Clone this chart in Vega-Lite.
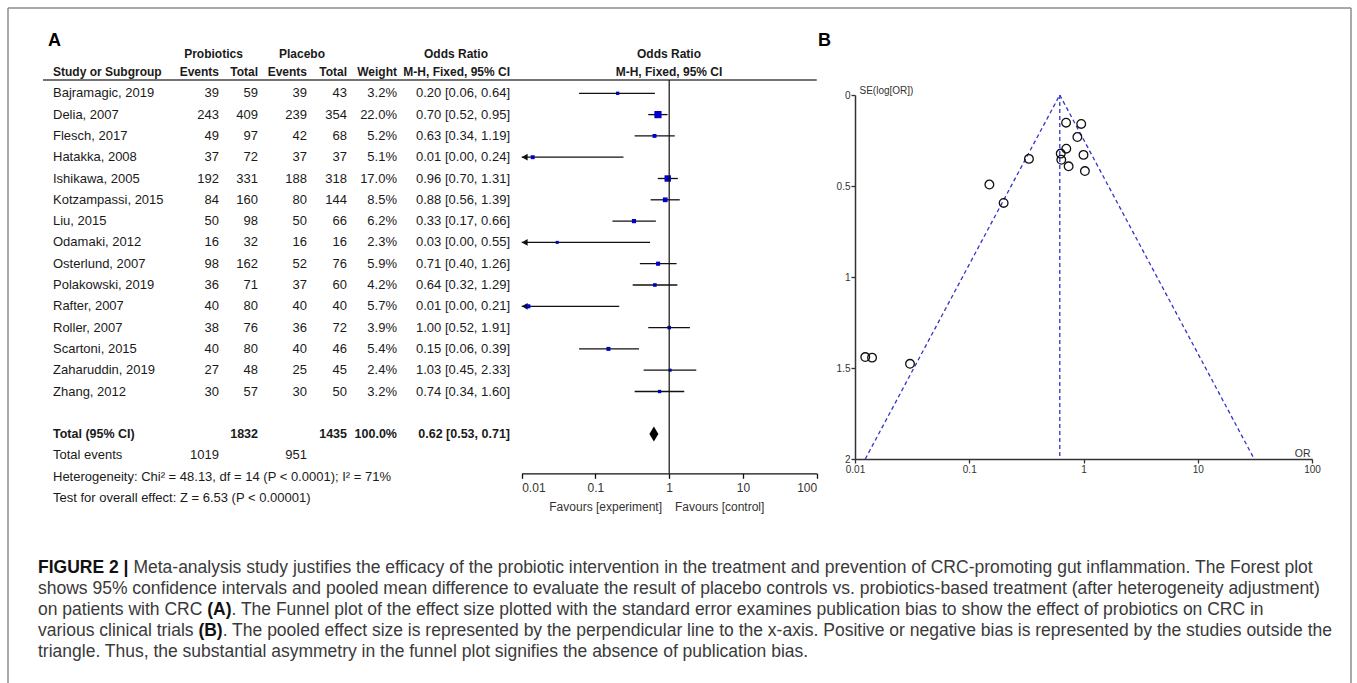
{
  "$schema": "https://vega.github.io/schema/vega-lite/v6.json",
  "autosize": {"type": "none"},
  "width": 1343,
  "height": 675,
  "padding": {"left": 8, "top": 8, "right": 6, "bottom": 0},
  "background": "#ffffff",
  "config": {
    "view": {"stroke": null},
    "axis": {"grid": false, "labelOverlap": false, "labelBound": false},
    "style": {
      "tbl": {"font": "Liberation Sans, Arial, sans-serif", "fontSize": 13, "color": "#1a1a1a", "baseline": "middle"},
      "tblb": {"font": "Liberation Sans, Arial, sans-serif", "fontSize": 12, "fontWeight": "bold", "color": "#1a1a1a", "baseline": "middle"},
      "fav": {"font": "Liberation Sans, Arial, sans-serif", "fontSize": 12, "color": "#333333", "baseline": "middle"},
      "cap": {"font": "Liberation Sans, Arial, sans-serif", "fontSize": 17.5, "color": "#3a3a3a", "baseline": "middle", "align": "left"},
      "capb": {"font": "Liberation Sans, Arial, sans-serif", "fontSize": 17.5, "fontWeight": "bold", "color": "#111111", "baseline": "middle", "align": "left"},
      "panel": {"font": "Liberation Sans, Arial, sans-serif", "fontSize": 18, "fontWeight": "bold", "color": "#000000", "baseline": "alphabetic", "align": "left"}
    }
  },
  "datasets": {
    "rows": [
      {"row": "Bajramagic, 2019", "kind": "study", "ev_p": 39, "tot_p": 59, "ev_c": 39, "tot_c": 43, "weight": 0.032, "or": 0.2, "lo": 0.06, "hi": 0.64, "ci": "0.20 [0.06, 0.64]", "se": 0.593},
      {"row": "Delia, 2007", "kind": "study", "ev_p": 243, "tot_p": 409, "ev_c": 239, "tot_c": 354, "weight": 0.22, "or": 0.704, "lo": 0.52, "hi": 0.95, "ci": "0.70 [0.52, 0.95]", "se": 0.152},
      {"row": "Flesch, 2017", "kind": "study", "ev_p": 49, "tot_p": 97, "ev_c": 42, "tot_c": 68, "weight": 0.052, "or": 0.632, "lo": 0.34, "hi": 1.19, "ci": "0.63 [0.34, 1.19]", "se": 0.322},
      {"row": "Hatakka, 2008", "kind": "study", "ev_p": 37, "tot_p": 72, "ev_c": 37, "tot_c": 37, "weight": 0.051, "or": 0.0141, "lo": 0.0008, "hi": 0.24, "ci": "0.01 [0.00, 0.24]", "se": 1.443},
      {"row": "Ishikawa, 2005", "kind": "study", "ev_p": 192, "tot_p": 331, "ev_c": 188, "tot_c": 318, "weight": 0.17, "or": 0.955, "lo": 0.7, "hi": 1.31, "ci": "0.96 [0.70, 1.31]", "se": 0.159},
      {"row": "Kotzampassi, 2015", "kind": "study", "ev_p": 84, "tot_p": 160, "ev_c": 80, "tot_c": 144, "weight": 0.085, "or": 0.884, "lo": 0.56, "hi": 1.39, "ci": "0.88 [0.56, 1.39]", "se": 0.231},
      {"row": "Liu, 2015", "kind": "study", "ev_p": 50, "tot_p": 98, "ev_c": 50, "tot_c": 66, "weight": 0.062, "or": 0.333, "lo": 0.17, "hi": 0.66, "ci": "0.33 [0.17, 0.66]", "se": 0.351},
      {"row": "Odamaki, 2012", "kind": "study", "ev_p": 16, "tot_p": 32, "ev_c": 16, "tot_c": 16, "weight": 0.023, "or": 0.0303, "lo": 0.0017, "hi": 0.55, "ci": "0.03 [0.00, 0.55]", "se": 1.477},
      {"row": "Osterlund, 2007", "kind": "study", "ev_p": 98, "tot_p": 162, "ev_c": 52, "tot_c": 76, "weight": 0.059, "or": 0.707, "lo": 0.4, "hi": 1.26, "ci": "0.71 [0.40, 1.26]", "se": 0.295},
      {"row": "Polakowski, 2019", "kind": "study", "ev_p": 36, "tot_p": 71, "ev_c": 37, "tot_c": 60, "weight": 0.042, "or": 0.639, "lo": 0.32, "hi": 1.29, "ci": "0.64 [0.32, 1.29]", "se": 0.356},
      {"row": "Rafter, 2007", "kind": "study", "ev_p": 40, "tot_p": 80, "ev_c": 40, "tot_c": 40, "weight": 0.057, "or": 0.0123, "lo": 0.0007, "hi": 0.21, "ci": "0.01 [0.00, 0.21]", "se": 1.44},
      {"row": "Roller, 2007", "kind": "study", "ev_p": 38, "tot_p": 76, "ev_c": 36, "tot_c": 72, "weight": 0.039, "or": 1.0, "lo": 0.52, "hi": 1.91, "ci": "1.00 [0.52, 1.91]", "se": 0.329},
      {"row": "Scartoni, 2015", "kind": "study", "ev_p": 40, "tot_p": 80, "ev_c": 40, "tot_c": 46, "weight": 0.054, "or": 0.15, "lo": 0.06, "hi": 0.39, "ci": "0.15 [0.06, 0.39]", "se": 0.492},
      {"row": "Zaharuddin, 2019", "kind": "study", "ev_p": 27, "tot_p": 48, "ev_c": 25, "tot_c": 45, "weight": 0.024, "or": 1.029, "lo": 0.45, "hi": 2.33, "ci": "1.03 [0.45, 2.33]", "se": 0.418},
      {"row": "Zhang, 2012", "kind": "study", "ev_p": 30, "tot_p": 57, "ev_c": 30, "tot_c": 50, "weight": 0.032, "or": 0.741, "lo": 0.34, "hi": 1.6, "ci": "0.74 [0.34, 1.60]", "se": 0.392},
      {"row": "Total (95% CI)", "kind": "total", "tot_p": 1832, "tot_c": 1435, "weight": 1.0, "or": 0.62, "lo": 0.53, "hi": 0.71, "ci": "0.62 [0.53, 0.71]"},
      {"row": "Total events", "kind": "events", "ev_p": 1019, "ev_c": 951},
      {"row": "Heterogeneity: Chi² = 48.13, df = 14 (P < 0.0001); I² = 71%", "kind": "note"},
      {"row": "Test for overall effect: Z = 6.53 (P < 0.00001)", "kind": "note"}
    ],
    "funnel": [
      {"line": "left", "or": 0.62, "se": 0},
      {"line": "left", "or": 0.0123, "se": 2},
      {"line": "mid", "or": 0.62, "se": 0},
      {"line": "mid", "or": 0.62, "se": 2},
      {"line": "right", "or": 0.62, "se": 0},
      {"line": "right", "or": 31.2, "se": 2}
    ]
  },
  "resolve": {"scale": {"x": "independent", "y": "independent"}},
  "layer": [
    {"data": {"values": [{}]}, "mark": {"type": "rule", "color": "#8c8c8c", "strokeWidth": 1.5}, "encoding": {"x": {"value": 0}, "x2": {"value": 1343}, "y": {"value": 0}}},
    {"data": {"values": [{}]}, "mark": {"type": "rule", "color": "#8c8c8c", "strokeWidth": 1.5}, "encoding": {"x": {"value": 0}, "y": {"value": 0}, "y2": {"value": 690}}},
    {"data": {"values": [{}]}, "mark": {"type": "rule", "color": "#8c8c8c", "strokeWidth": 1.5}, "encoding": {"x": {"value": 1343}, "y": {"value": 0}, "y2": {"value": 690}}},
    {"data": {"values": [{}]}, "mark": {"type": "text", "style": "panel", "text": "A", "x": 40, "y": 38}},
    {"data": {"values": [{}]}, "mark": {"type": "text", "style": "panel", "text": "B", "x": 810, "y": 38}},
    {"data": {"values": [{}]}, "mark": {"type": "text", "style": "tblb", "align": "center", "text": "Probiotics", "x": 205.5, "y": 46}},
    {"data": {"values": [{}]}, "mark": {"type": "text", "style": "tblb", "align": "center", "text": "Placebo", "x": 294, "y": 46}},
    {"data": {"values": [{}]}, "mark": {"type": "text", "style": "tblb", "align": "center", "text": "Odds Ratio", "x": 448, "y": 46}},
    {"data": {"values": [{}]}, "mark": {"type": "text", "style": "tblb", "align": "center", "text": "Odds Ratio", "x": 661, "y": 46}},
    {"data": {"values": [{}]}, "mark": {"type": "text", "style": "tblb", "align": "left", "text": "Study or Subgroup", "x": 45, "y": 63.5}},
    {"data": {"values": [{}]}, "mark": {"type": "text", "style": "tblb", "align": "right", "text": "Events", "x": 211, "y": 63.5}},
    {"data": {"values": [{}]}, "mark": {"type": "text", "style": "tblb", "align": "right", "text": "Total", "x": 250, "y": 63.5}},
    {"data": {"values": [{}]}, "mark": {"type": "text", "style": "tblb", "align": "right", "text": "Events", "x": 299, "y": 63.5}},
    {"data": {"values": [{}]}, "mark": {"type": "text", "style": "tblb", "align": "right", "text": "Total", "x": 339, "y": 63.5}},
    {"data": {"values": [{}]}, "mark": {"type": "text", "style": "tblb", "align": "right", "text": "Weight", "x": 389, "y": 63.5}},
    {"data": {"values": [{}]}, "mark": {"type": "text", "style": "tblb", "align": "right", "text": "M-H, Fixed, 95% CI", "x": 502, "y": 63.5}},
    {"data": {"values": [{}]}, "mark": {"type": "text", "style": "tblb", "align": "center", "text": "M-H, Fixed, 95% CI", "x": 661, "y": 63.5}},
    {"data": {"values": [{}]}, "mark": {"type": "rule", "color": "#444444", "strokeWidth": 1.6}, "encoding": {"x": {"value": 35}, "x2": {"value": 808.7}, "y": {"value": 72}}},
    {"data": {"values": [{}]}, "mark": {"type": "text", "style": "fav", "align": "right", "text": "Favours [experiment]", "x": 654, "y": 499}},
    {"data": {"values": [{}]}, "mark": {"type": "text", "style": "fav", "align": "left", "text": "Favours [control]", "x": 667, "y": 499}},
    {
      "data": {"name": "rows"},
      "encoding": {
        "y": {
          "field": "row",
          "type": "nominal",
          "scale": {
            "type": "point",
            "padding": 0,
            "range": [85.3, 490],
            "domain": ["Bajramagic, 2019", "Delia, 2007", "Flesch, 2017", "Hatakka, 2008", "Ishikawa, 2005", "Kotzampassi, 2015", "Liu, 2015", "Odamaki, 2012", "Osterlund, 2007", "Polakowski, 2019", "Rafter, 2007", "Roller, 2007", "Scartoni, 2015", "Zaharuddin, 2019", "Zhang, 2012", " ", "Total (95% CI)", "Total events", "Heterogeneity: Chi² = 48.13, df = 14 (P < 0.0001); I² = 71%", "Test for overall effect: Z = 6.53 (P < 0.00001)"]
          },
          "axis": null
        }
      },
      "layer": [
        {"transform": [{"filter": "datum.kind != 'total'"}], "mark": {"type": "text", "style": "tbl", "align": "left", "x": 45}, "encoding": {"text": {"field": "row", "type": "nominal"}}},
        {"transform": [{"filter": "datum.kind == 'total'"}], "mark": {"type": "text", "style": "tblb", "fontSize": 12.5, "align": "left", "x": 45}, "encoding": {"text": {"field": "row", "type": "nominal"}}},
        {"transform": [{"filter": "isValid(datum.ev_p)"}], "mark": {"type": "text", "style": "tbl", "align": "right", "x": 211}, "encoding": {"text": {"field": "ev_p", "type": "quantitative", "format": "d"}}},
        {"transform": [{"filter": "datum.kind == 'study'"}], "mark": {"type": "text", "style": "tbl", "align": "right", "x": 250}, "encoding": {"text": {"field": "tot_p", "type": "quantitative", "format": "d"}}},
        {"transform": [{"filter": "datum.kind == 'total'"}], "mark": {"type": "text", "style": "tblb", "fontSize": 12.5, "align": "right", "x": 250}, "encoding": {"text": {"field": "tot_p", "type": "quantitative", "format": "d"}}},
        {"transform": [{"filter": "isValid(datum.ev_c)"}], "mark": {"type": "text", "style": "tbl", "align": "right", "x": 299}, "encoding": {"text": {"field": "ev_c", "type": "quantitative", "format": "d"}}},
        {"transform": [{"filter": "datum.kind == 'study'"}], "mark": {"type": "text", "style": "tbl", "align": "right", "x": 339}, "encoding": {"text": {"field": "tot_c", "type": "quantitative", "format": "d"}}},
        {"transform": [{"filter": "datum.kind == 'total'"}], "mark": {"type": "text", "style": "tblb", "fontSize": 12.5, "align": "right", "x": 339}, "encoding": {"text": {"field": "tot_c", "type": "quantitative", "format": "d"}}},
        {"transform": [{"filter": "datum.kind == 'study'"}], "mark": {"type": "text", "style": "tbl", "align": "right", "x": 389}, "encoding": {"text": {"field": "weight", "type": "quantitative", "format": ".1%"}}},
        {"transform": [{"filter": "datum.kind == 'total'"}], "mark": {"type": "text", "style": "tblb", "fontSize": 12.5, "align": "right", "x": 389}, "encoding": {"text": {"field": "weight", "type": "quantitative", "format": ".1%"}}},
        {"transform": [{"filter": "datum.kind == 'study'"}], "mark": {"type": "text", "style": "tbl", "align": "right", "x": 502}, "encoding": {"text": {"field": "ci", "type": "nominal"}}},
        {"transform": [{"filter": "datum.kind == 'total'"}], "mark": {"type": "text", "style": "tblb", "fontSize": 12.5, "align": "right", "x": 502}, "encoding": {"text": {"field": "ci", "type": "nominal"}}},
        {
          "transform": [{"filter": "datum.kind == 'study'"}],
          "mark": {"type": "rule", "color": "#111111", "strokeWidth": 1.3},
          "encoding": {
            "x": {
              "field": "lo", "type": "quantitative",
              "scale": {"type": "log", "domain": [0.01, 100], "range": [513.7, 808.7], "clamp": true, "nice": false},
              "axis": {
                "orient": "bottom", "offset": -209.7, "values": [0.01, 0.1, 1, 10, 100],
                "labelExpr": "format(datum.value, '~g')", "labelFlush": true,
                "tickSize": 5, "labelPadding": 4, "domainColor": "#111111", "tickColor": "#111111",
                "domainWidth": 1.3, "tickWidth": 1.3,
                "labelFont": "Liberation Sans, Arial, sans-serif",
                "labelFontSize": 12, "labelColor": "#333333", "title": null
              }
            },
            "x2": {"field": "hi"}
          }
        },
        {
          "transform": [{"filter": "datum.kind == 'study' && datum.lo < 0.01"}],
          "mark": {"type": "point", "shape": "triangle-left", "filled": true, "color": "#111111", "size": 45, "opacity": 1, "xOffset": 3},
          "encoding": {"x": {"field": "lo", "type": "quantitative", "scale": {"type": "log", "domain": [0.01, 100], "range": [513.7, 808.7], "clamp": true, "nice": false}}}
        },
        {
          "transform": [{"filter": "datum.kind == 'study'"}],
          "mark": {"type": "point", "shape": "square", "filled": true, "color": "#0000cc", "opacity": 1},
          "encoding": {
            "x": {"field": "or", "type": "quantitative", "scale": {"type": "log", "domain": [0.01, 100], "range": [513.7, 808.7], "clamp": true, "nice": false}},
            "size": {"field": "weight", "type": "quantitative", "scale": {"domain": [0, 0.22], "range": [4, 52]}, "legend": null}
          }
        },
        {
          "transform": [{"filter": "datum.kind == 'total'"}],
          "mark": {"type": "point", "shape": "M-0.6,0L0,-1L0.6,0L0,1Z", "filled": true, "color": "#000000", "size": 225, "opacity": 1},
          "encoding": {"x": {"field": "or", "type": "quantitative", "scale": {"type": "log", "domain": [0.01, 100], "range": [513.7, 808.7], "clamp": true, "nice": false}}}
        },
        {
          "data": {"values": [{}]},
          "mark": {"type": "rule", "color": "#111111", "strokeWidth": 1.2},
          "encoding": {
            "x": {"datum": 1, "type": "quantitative", "scale": {"type": "log", "domain": [0.01, 100], "range": [513.7, 808.7], "clamp": true, "nice": false}},
            "y": {"value": 72},
            "y2": {"value": 465.3}
          }
        }
      ]
    },
    {
      "layer": [
        {
          "data": {"name": "funnel"},
          "mark": {"type": "line", "color": "#3434c8", "strokeWidth": 1.3, "strokeDash": [4, 3]},
          "encoding": {
            "x": {
              "field": "or", "type": "quantitative",
              "scale": {"type": "log", "domain": [0.01, 100], "range": [847, 1304], "nice": false},
              "axis": {
                "orient": "bottom", "offset": -224, "values": [0.01, 0.1, 1, 10, 100],
                "labelExpr": "format(datum.value, '~g')", "labelFlush": false,
                "tickSize": 4, "labelPadding": 1, "domainColor": "#333333", "tickColor": "#333333",
                "domainWidth": 1.5, "tickWidth": 1.3,
                "labelFont": "Liberation Sans, Arial, sans-serif",
                "labelFontSize": 10, "labelColor": "#333333",
                "title": "OR", "titleX": 1302, "titleY": -3, "titleAlign": "right", "titleBaseline": "alphabetic",
                "titleFont": "Liberation Sans, Arial, sans-serif",
                "titleFontSize": 10.5, "titleFontWeight": "normal", "titleColor": "#333333"
              }
            },
            "y": {
              "field": "se", "type": "quantitative",
              "scale": {"domain": [0, 2], "range": [87, 451], "nice": false, "zero": false},
              "axis": {
                "orient": "left", "offset": -847, "values": [0, 0.5, 1, 1.5, 2],
                "labelExpr": "format(datum.value, '~g')",
                "tickSize": 4, "labelPadding": 1, "domainColor": "#333333", "tickColor": "#333333",
                "domainWidth": 1.5, "tickWidth": 1.3,
                "labelFont": "Liberation Sans, Arial, sans-serif",
                "labelFontSize": 10, "labelColor": "#333333",
                "title": "SE(log[OR])", "titleAngle": 0, "titleX": 4, "titleY": 85, "titleAlign": "left", "titleBaseline": "alphabetic",
                "titleFont": "Liberation Sans, Arial, sans-serif",
                "titleFontSize": 10, "titleFontWeight": "normal", "titleColor": "#333333"
              }
            },
            "detail": {"field": "line", "type": "nominal"}
          }
        },
        {
          "data": {"name": "rows"},
          "transform": [{"filter": "datum.kind == 'study'"}],
          "mark": {"type": "point", "shape": "circle", "filled": false, "color": "#111111", "strokeWidth": 1.3, "size": 75, "opacity": 1},
          "encoding": {
            "x": {"field": "or", "type": "quantitative", "scale": {"type": "log", "domain": [0.01, 100], "range": [847, 1304], "nice": false}},
            "y": {"field": "se", "type": "quantitative", "scale": {"domain": [0, 2], "range": [87, 451], "nice": false, "zero": false}}
          }
        }
      ]
    },
    {"data": {"values": [{}]}, "mark": {"type": "text", "style": "capb", "text": "FIGURE 2 |", "x": 30, "y": 560}},
    {"data": {"values": [{}]}, "mark": {"type": "text", "style": "cap", "text": "Meta-analysis study justifies the efficacy of the probiotic intervention in the treatment and prevention of CRC-promoting gut inflammation. The Forest plot", "x": 125.4, "y": 560}},
    {"data": {"values": [{}]}, "mark": {"type": "text", "style": "cap", "text": "shows 95% confidence intervals and pooled mean difference to evaluate the result of placebo controls vs. probiotics-based treatment (after heterogeneity adjustment)", "x": 30, "y": 581}},
    {"data": {"values": [{}]}, "mark": {"type": "text", "style": "cap", "text": "on patients with CRC", "x": 30, "y": 602}},
    {"data": {"values": [{}]}, "mark": {"type": "text", "style": "capb", "text": "(A)", "x": 199.2, "y": 602}},
    {"data": {"values": [{}]}, "mark": {"type": "text", "style": "cap", "text": ". The Funnel plot of the effect size plotted with the standard error examines publication bias to show the effect of probiotics on CRC in", "x": 223.5, "y": 602}},
    {"data": {"values": [{}]}, "mark": {"type": "text", "style": "cap", "text": "various clinical trials", "x": 30, "y": 623}},
    {"data": {"values": [{}]}, "mark": {"type": "text", "style": "capb", "text": "(B)", "x": 190.4, "y": 623}},
    {"data": {"values": [{}]}, "mark": {"type": "text", "style": "cap", "text": ". The pooled effect size is represented by the perpendicular line to the x-axis. Positive or negative bias is represented by the studies outside the", "x": 214.7, "y": 623}},
    {"data": {"values": [{}]}, "mark": {"type": "text", "style": "cap", "text": "triangle. Thus, the substantial asymmetry in the funnel plot signifies the absence of publication bias.", "x": 30, "y": 644}}
  ]
}
